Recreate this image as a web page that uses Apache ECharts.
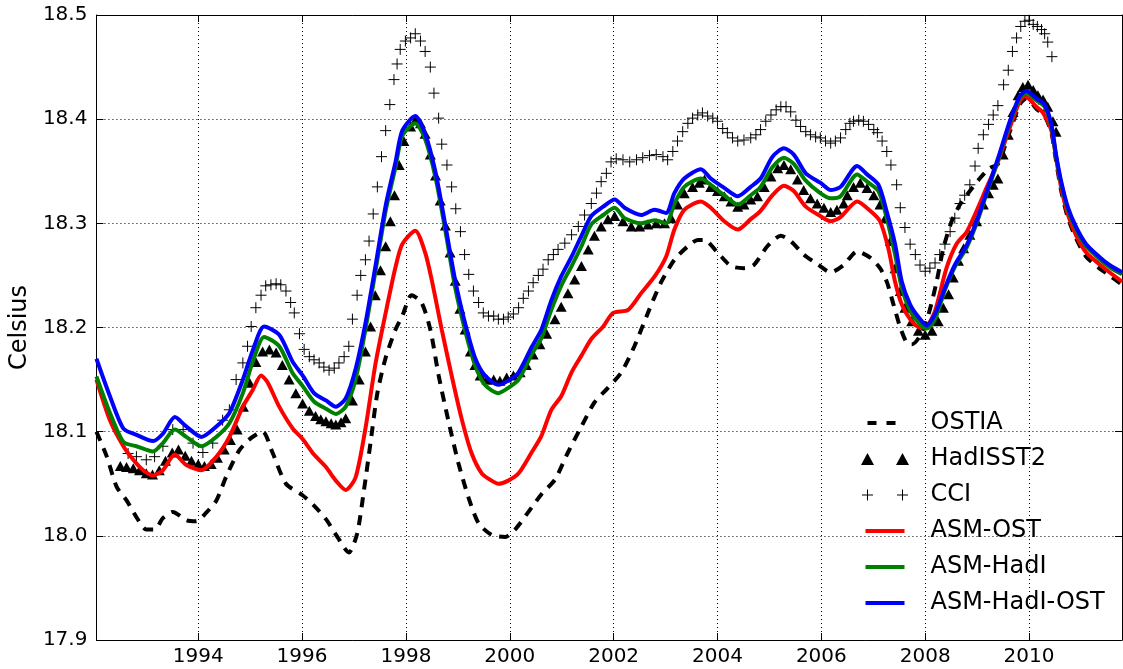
<!DOCTYPE html>
<html>
<head>
<meta charset="utf-8">
<script src="https://cdn.jsdelivr.net/npm/echarts@6/dist/echarts.min.js"></script>
<style>
html,body{margin:0;padding:0;background:#fff;}
#chart{width:1123px;height:669px;}
</style>
</head>
<body>
<div id="chart"></div>
<script>
// ---------------- data ----------------
const xTickLabels = [1994, 1996, 1998, 2000, 2002, 2004, 2006, 2008, 2010];
const yTickLabels = [17.9, 18.0, 18.1, 18.2, 18.3, 18.4, 18.5];
const X_MIN = 1992.04, X_MAX = 2011.79;

const ostiaX = [1992.04,1992.24,1992.43,1992.62,1992.81,1993.00,1993.16,1993.32,1993.51,1993.77,1993.96,1994.15,1994.35,1994.54,1994.79,1995.02,1995.24,1995.43,1995.69,1996.01,1996.23,1996.46,1996.68,1996.90,1997.06,1997.19,1997.32,1997.45,1997.61,1997.80,1997.93,1998.11,1998.30,1998.47,1998.63,1998.82,1999.01,1999.21,1999.40,1999.65,1999.91,2000.10,2000.36,2000.61,2000.87,2001.12,2001.38,2001.63,2001.89,2002.15,2002.40,2002.66,2002.91,2003.17,2003.43,2003.62,2003.75,2004.00,2004.26,2004.51,2004.70,2004.96,2005.22,2005.41,2005.66,2005.92,2006.18,2006.43,2006.69,2006.94,2007.13,2007.26,2007.39,2007.52,2007.65,2007.75,2007.90,2008.06,2008.22,2008.35,2008.51,2008.67,2008.86,2009.05,2009.24,2009.40,2009.63,2009.82,2009.95,2010.14,2010.30,2010.43,2010.52,2010.62,2010.75,2010.91,2011.10,2011.35,2011.55,2011.79];
const ostiaY = [18.100,18.076,18.047,18.034,18.018,18.006,18.006,18.017,18.023,18.015,18.014,18.022,18.034,18.057,18.082,18.094,18.100,18.080,18.050,18.039,18.029,18.016,17.999,17.984,18.002,18.043,18.090,18.137,18.171,18.198,18.211,18.231,18.224,18.198,18.154,18.110,18.070,18.036,18.012,18.001,17.999,18.006,18.023,18.040,18.054,18.080,18.105,18.128,18.142,18.157,18.182,18.214,18.243,18.265,18.278,18.284,18.284,18.272,18.259,18.257,18.260,18.278,18.288,18.283,18.270,18.261,18.253,18.260,18.273,18.267,18.257,18.244,18.222,18.200,18.185,18.184,18.192,18.212,18.244,18.276,18.302,18.318,18.331,18.343,18.353,18.357,18.388,18.414,18.420,18.410,18.403,18.387,18.360,18.331,18.305,18.285,18.268,18.257,18.250,18.241];

const hadisstX = [1992.50,1992.62,1992.75,1992.87,1993.00,1993.12,1993.25,1993.37,1993.50,1993.62,1993.75,1993.87,1994.00,1994.12,1994.25,1994.37,1994.50,1994.62,1994.75,1994.87,1994.99,1995.11,1995.24,1995.37,1995.50,1995.62,1995.75,1995.88,1996.01,1996.14,1996.26,1996.36,1996.46,1996.56,1996.65,1996.75,1996.84,1996.97,1997.10,1997.22,1997.32,1997.41,1997.51,1997.61,1997.70,1997.78,1997.87,1997.96,1998.09,1998.18,1998.28,1998.37,1998.47,1998.57,1998.66,1998.76,1998.85,1998.95,1999.04,1999.14,1999.24,1999.33,1999.43,1999.56,1999.69,1999.81,1999.94,2000.07,2000.20,2000.32,2000.45,2000.58,2000.71,2000.87,2000.99,2001.12,2001.25,2001.38,2001.51,2001.63,2001.76,2001.89,2002.02,2002.18,2002.34,2002.50,2002.66,2002.82,2002.98,2003.11,2003.23,2003.36,2003.52,2003.65,2003.75,2003.87,2004.00,2004.13,2004.26,2004.39,2004.51,2004.64,2004.77,2004.90,2005.03,2005.16,2005.28,2005.41,2005.54,2005.66,2005.79,2005.92,2006.05,2006.18,2006.30,2006.43,2006.50,2006.62,2006.75,2006.88,2007.01,2007.13,2007.23,2007.33,2007.42,2007.52,2007.61,2007.74,2007.87,2008.00,2008.13,2008.25,2008.35,2008.45,2008.54,2008.64,2008.74,2008.86,2008.99,2009.12,2009.22,2009.31,2009.40,2009.50,2009.60,2009.69,2009.79,2009.88,2009.98,2010.08,2010.17,2010.27,2010.36,2010.46,2010.52];
const hadisstY = [18.067,18.066,18.065,18.063,18.060,18.059,18.063,18.072,18.080,18.083,18.077,18.072,18.069,18.067,18.069,18.075,18.083,18.092,18.102,18.124,18.147,18.167,18.177,18.179,18.176,18.164,18.150,18.137,18.127,18.120,18.115,18.112,18.110,18.108,18.107,18.109,18.113,18.130,18.150,18.177,18.201,18.231,18.255,18.278,18.302,18.327,18.356,18.379,18.393,18.399,18.396,18.386,18.366,18.346,18.322,18.298,18.272,18.245,18.218,18.198,18.177,18.164,18.154,18.150,18.150,18.149,18.152,18.154,18.157,18.164,18.174,18.184,18.194,18.208,18.220,18.233,18.246,18.259,18.275,18.288,18.297,18.304,18.307,18.302,18.297,18.297,18.299,18.300,18.300,18.305,18.318,18.329,18.335,18.339,18.342,18.335,18.331,18.326,18.321,18.316,18.318,18.323,18.326,18.335,18.345,18.353,18.356,18.352,18.342,18.332,18.324,18.319,18.315,18.311,18.313,18.319,18.327,18.335,18.339,18.334,18.327,18.318,18.305,18.283,18.257,18.235,18.219,18.206,18.197,18.193,18.197,18.206,18.219,18.232,18.248,18.264,18.276,18.289,18.302,18.318,18.329,18.337,18.343,18.366,18.385,18.407,18.423,18.431,18.433,18.428,18.423,18.419,18.412,18.398,18.388];

const cciX = [1992.65,1992.81,1993.00,1993.16,1993.32,1993.51,1993.71,1993.90,1994.09,1994.28,1994.47,1994.60,1994.73,1994.86,1994.95,1995.02,1995.11,1995.21,1995.30,1995.40,1995.50,1995.59,1995.69,1995.78,1995.85,1995.95,1996.04,1996.14,1996.23,1996.33,1996.42,1996.52,1996.62,1996.71,1996.81,1996.90,1996.97,1997.06,1997.13,1997.22,1997.29,1997.37,1997.45,1997.53,1997.61,1997.69,1997.77,1997.83,1997.89,1997.99,1998.09,1998.18,1998.28,1998.37,1998.47,1998.54,1998.63,1998.69,1998.79,1998.88,1998.96,1999.05,1999.13,1999.21,1999.30,1999.40,1999.49,1999.59,1999.69,1999.78,1999.88,1999.97,2000.07,2000.17,2000.26,2000.36,2000.45,2000.55,2000.64,2000.74,2000.84,2000.93,2001.06,2001.19,2001.32,2001.44,2001.57,2001.67,2001.76,2001.86,2001.95,2002.05,2002.18,2002.31,2002.44,2002.56,2002.69,2002.82,2002.95,2003.04,2003.14,2003.23,2003.33,2003.43,2003.52,2003.62,2003.71,2003.81,2003.91,2004.00,2004.10,2004.19,2004.29,2004.39,2004.51,2004.64,2004.74,2004.83,2004.93,2005.03,2005.13,2005.22,2005.32,2005.41,2005.51,2005.60,2005.70,2005.79,2005.89,2005.98,2006.08,2006.18,2006.27,2006.37,2006.47,2006.55,2006.62,2006.72,2006.81,2006.91,2007.01,2007.08,2007.17,2007.26,2007.34,2007.45,2007.52,2007.61,2007.71,2007.81,2007.90,2008.00,2008.09,2008.19,2008.28,2008.38,2008.48,2008.57,2008.67,2008.76,2008.86,2008.96,2009.02,2009.12,2009.22,2009.31,2009.40,2009.51,2009.60,2009.68,2009.76,2009.84,2009.92,2010.00,2010.08,2010.16,2010.24,2010.30,2010.36,2010.44];
const cciY = [18.079,18.076,18.073,18.076,18.086,18.102,18.102,18.089,18.080,18.089,18.111,18.121,18.150,18.166,18.182,18.201,18.219,18.231,18.240,18.241,18.242,18.241,18.235,18.224,18.214,18.194,18.179,18.172,18.169,18.166,18.162,18.159,18.161,18.166,18.172,18.182,18.208,18.231,18.250,18.265,18.283,18.309,18.335,18.364,18.389,18.414,18.438,18.453,18.467,18.475,18.478,18.482,18.475,18.465,18.450,18.425,18.401,18.376,18.356,18.335,18.314,18.292,18.270,18.251,18.235,18.224,18.214,18.211,18.211,18.208,18.208,18.210,18.213,18.219,18.228,18.235,18.243,18.250,18.256,18.265,18.270,18.275,18.281,18.289,18.297,18.308,18.319,18.329,18.340,18.348,18.359,18.362,18.361,18.359,18.361,18.363,18.365,18.366,18.364,18.361,18.369,18.379,18.388,18.396,18.401,18.404,18.406,18.403,18.401,18.398,18.391,18.387,18.382,18.379,18.380,18.382,18.385,18.390,18.398,18.404,18.409,18.412,18.412,18.407,18.399,18.393,18.388,18.385,18.383,18.382,18.379,18.377,18.379,18.382,18.390,18.396,18.398,18.399,18.398,18.395,18.390,18.387,18.379,18.369,18.356,18.337,18.315,18.296,18.280,18.270,18.260,18.254,18.257,18.262,18.270,18.280,18.292,18.305,18.319,18.327,18.337,18.355,18.372,18.385,18.395,18.404,18.413,18.433,18.447,18.465,18.478,18.489,18.494,18.495,18.491,18.489,18.486,18.482,18.474,18.460];

const asmOstX = [1992.04,1992.30,1992.56,1992.75,1992.94,1993.13,1993.32,1993.55,1993.77,1994.06,1994.35,1994.60,1994.86,1995.05,1995.21,1995.34,1995.56,1995.82,1996.01,1996.23,1996.46,1996.65,1996.84,1997.03,1997.22,1997.41,1997.61,1997.80,1997.93,1998.18,1998.37,1998.50,1998.69,1998.88,1999.07,1999.26,1999.46,1999.65,1999.78,1999.97,2000.17,2000.42,2000.61,2000.80,2000.99,2001.19,2001.38,2001.57,2001.80,2001.99,2002.28,2002.53,2002.79,2003.01,2003.17,2003.36,2003.68,2003.87,2004.13,2004.39,2004.64,2004.83,2005.06,2005.28,2005.47,2005.70,2005.98,2006.18,2006.37,2006.69,2006.94,2007.13,2007.29,2007.42,2007.55,2007.71,2007.90,2008.03,2008.19,2008.41,2008.60,2008.80,2008.99,2009.18,2009.40,2009.63,2009.82,2009.92,2010.14,2010.27,2010.43,2010.52,2010.62,2010.75,2010.91,2011.10,2011.35,2011.55,2011.79];
const asmOstY = [18.150,18.111,18.086,18.073,18.063,18.058,18.063,18.078,18.068,18.063,18.076,18.095,18.124,18.140,18.154,18.147,18.124,18.103,18.093,18.078,18.066,18.053,18.044,18.056,18.103,18.164,18.214,18.258,18.280,18.293,18.272,18.245,18.198,18.154,18.113,18.080,18.060,18.053,18.050,18.053,18.060,18.080,18.096,18.121,18.134,18.157,18.173,18.189,18.201,18.214,18.217,18.233,18.249,18.268,18.294,18.313,18.321,18.315,18.302,18.294,18.304,18.312,18.327,18.336,18.331,18.316,18.307,18.302,18.306,18.321,18.312,18.302,18.276,18.244,18.222,18.208,18.200,18.201,18.216,18.257,18.280,18.292,18.312,18.334,18.359,18.392,18.417,18.422,18.412,18.406,18.389,18.363,18.334,18.308,18.288,18.272,18.261,18.253,18.244];

const asmHadiX = [1992.04,1992.30,1992.56,1992.81,1993.13,1993.32,1993.55,1993.77,1994.06,1994.35,1994.60,1994.86,1995.05,1995.27,1995.56,1995.82,1996.01,1996.23,1996.46,1996.65,1996.84,1997.03,1997.22,1997.41,1997.61,1997.80,1997.93,1998.18,1998.37,1998.57,1998.76,1998.95,1999.14,1999.33,1999.52,1999.78,1999.97,2000.17,2000.42,2000.61,2000.80,2000.99,2001.19,2001.38,2001.57,2001.80,2002.02,2002.21,2002.53,2002.79,2003.01,2003.17,2003.36,2003.68,2003.87,2004.13,2004.39,2004.64,2004.83,2005.06,2005.28,2005.47,2005.70,2005.98,2006.18,2006.37,2006.69,2006.88,2007.10,2007.26,2007.42,2007.55,2007.71,2007.87,2008.03,2008.19,2008.38,2008.57,2008.80,2008.99,2009.18,2009.40,2009.63,2009.82,2009.95,2010.14,2010.30,2010.43,2010.52,2010.62,2010.75,2010.91,2011.10,2011.35,2011.55,2011.79];
const asmHadiY = [18.153,18.118,18.090,18.086,18.081,18.089,18.102,18.095,18.086,18.095,18.108,18.137,18.167,18.191,18.182,18.156,18.144,18.129,18.122,18.117,18.124,18.150,18.198,18.253,18.312,18.354,18.384,18.396,18.381,18.344,18.293,18.238,18.197,18.164,18.145,18.137,18.142,18.150,18.174,18.190,18.217,18.240,18.259,18.278,18.299,18.308,18.315,18.305,18.300,18.303,18.300,18.319,18.335,18.343,18.337,18.327,18.318,18.327,18.335,18.354,18.363,18.357,18.341,18.329,18.324,18.326,18.347,18.340,18.331,18.305,18.270,18.238,18.216,18.205,18.199,18.208,18.236,18.258,18.277,18.300,18.328,18.360,18.396,18.420,18.425,18.418,18.412,18.393,18.364,18.338,18.313,18.294,18.278,18.266,18.258,18.251];

const asmHadiOstX = [1992.04,1992.30,1992.56,1992.81,1993.13,1993.32,1993.55,1993.77,1994.06,1994.35,1994.60,1994.86,1995.05,1995.27,1995.56,1995.82,1996.01,1996.23,1996.46,1996.65,1996.84,1997.03,1997.22,1997.41,1997.61,1997.80,1997.93,1998.18,1998.37,1998.57,1998.76,1998.95,1999.14,1999.33,1999.52,1999.78,1999.97,2000.17,2000.42,2000.61,2000.80,2000.99,2001.19,2001.38,2001.57,2001.80,2002.02,2002.21,2002.53,2002.79,2003.01,2003.17,2003.36,2003.68,2003.87,2004.13,2004.39,2004.64,2004.83,2005.06,2005.28,2005.47,2005.70,2005.98,2006.18,2006.37,2006.69,2006.88,2007.10,2007.26,2007.42,2007.55,2007.71,2007.87,2008.03,2008.19,2008.38,2008.57,2008.80,2008.99,2009.18,2009.40,2009.63,2009.82,2009.95,2010.14,2010.30,2010.43,2010.52,2010.62,2010.75,2010.91,2011.10,2011.35,2011.55,2011.79];
const asmHadiOstY = [18.170,18.134,18.103,18.097,18.091,18.098,18.114,18.105,18.095,18.105,18.118,18.150,18.178,18.201,18.193,18.167,18.154,18.137,18.130,18.124,18.132,18.160,18.204,18.258,18.317,18.359,18.389,18.403,18.386,18.349,18.298,18.245,18.204,18.171,18.154,18.145,18.149,18.157,18.181,18.198,18.226,18.249,18.268,18.288,18.307,18.316,18.323,18.315,18.308,18.313,18.310,18.329,18.343,18.352,18.343,18.334,18.326,18.335,18.343,18.364,18.372,18.366,18.348,18.339,18.332,18.335,18.355,18.347,18.337,18.311,18.280,18.244,18.222,18.210,18.202,18.213,18.238,18.260,18.279,18.302,18.330,18.362,18.398,18.422,18.427,18.420,18.414,18.395,18.366,18.340,18.315,18.296,18.280,18.268,18.260,18.253];

// ---------------- chart ----------------
function zip(xs, ys) { return xs.map((x, i) => [x, ys[i]]); }
const FONT = 'DejaVu Sans';

const chart = echarts.init(document.getElementById('chart'), null, { renderer: 'canvas' });

const xAxisBase = {
  type: 'value', min: X_MIN, max: X_MAX,
  axisLine: { show: true, onZero: false, lineStyle: { color: '#000', width: 1 } },
  axisTick: { show: true, inside: true, length: 7, customValues: xTickLabels, lineStyle: { color: '#000', width: 1 } },
  minorTick: { show: false }
};
const yAxisBase = {
  type: 'value', min: yTickLabels[0], max: yTickLabels[yTickLabels.length - 1], interval: 0.1,
  axisLine: { show: true, onZero: false, lineStyle: { color: '#000', width: 1 } },
  axisTick: { show: true, inside: true, length: 7, lineStyle: { color: '#000', width: 1 } }
};

const option = {
  animation: false,
  backgroundColor: '#fff',
  grid: { left: 93, right: 1, top: 15, bottom: 29, containLabel: false },
  xAxis: [
    Object.assign({}, xAxisBase, {
      position: 'bottom',
      axisLabel: { show: true, customValues: xTickLabels, formatter: v => String(Math.round(v)), fontSize: 20, fontFamily: FONT, color: '#000', margin: 7 },
      splitLine: { show: true, lineStyle: { color: '#000', width: 1, type: [1, 3] } }
    }),
    Object.assign({}, xAxisBase, {
      position: 'top',
      axisLabel: { show: false },
      splitLine: { show: false }
    })
  ],
  yAxis: [
    Object.assign({}, yAxisBase, {
      position: 'left',
      name: 'Celsius', nameLocation: 'middle', nameGap: 64, nameRotate: 90,
      nameTextStyle: { fontSize: 24, fontFamily: FONT, color: '#000' },
      axisLabel: { show: true, formatter: v => v.toFixed(1), fontSize: 20, fontFamily: FONT, color: '#000', margin: 9 },
      splitLine: { show: true, lineStyle: { color: '#000', width: 1, type: [1, 3] } }
    }),
    Object.assign({}, yAxisBase, {
      position: 'right',
      axisLabel: { show: false },
      splitLine: { show: false }
    })
  ],
  legend: {
    orient: 'vertical', left: 859, top: 411, padding: 0,
    itemWidth: 66, itemHeight: 16, itemGap: 12,
    selectedMode: false,
    textStyle: { fontSize: 24, fontFamily: FONT, color: '#000', lineHeight: 24 },
    data: [
      { name: 'OSTIA', icon: 'path://M0,0M66,16M8,6h9v4h-9zM27,6h9v4h-9z', itemStyle: { color: '#000', borderWidth: 0, opacity: 1 } },
      { name: 'HadISST2', icon: 'path://M0,0M66,16M1.5,14L8,2L14.5,14ZM36.5,14L43,2L49.5,14Z', itemStyle: { color: '#000', borderWidth: 0, opacity: 1 } },
      { name: 'CCI', icon: 'path://M0,0M66,16M8,2.5V13.5M2.5,8H13.5M43,2.5V13.5M37.5,8H48.5', itemStyle: { color: 'rgba(0,0,0,0)', borderColor: '#000', borderWidth: 1, opacity: 1 } },
      { name: 'ASM-OST', icon: 'path://M0,0M66,16M6,6H45V10H6Z', itemStyle: { color: '#ff0000', borderWidth: 0, opacity: 1 } },
      { name: 'ASM-HadI', icon: 'path://M0,0M66,16M6,6H45V10H6Z', itemStyle: { color: '#008000', borderWidth: 0, opacity: 1 } },
      { name: 'ASM-HadI-OST', icon: 'path://M0,0M66,16M6,6H45V10H6Z', itemStyle: { color: '#0000ff', borderWidth: 0, opacity: 1 } }
    ]
  },
  series: [
    {
      name: 'OSTIA', type: 'line', data: zip(ostiaX, ostiaY), symbol: 'none', smooth: 0.25,
      color: '#000',
      lineStyle: { color: '#000', width: 4, type: [10, 8], cap: 'butt' }, z: 2
    },
    {
      name: 'HadISST2', type: 'scatter', data: zip(hadisstX, hadisstY),
      symbol: 'triangle', symbolSize: [11, 10], color: '#000',
      itemStyle: { color: '#000', opacity: 1 }, z: 3
    },
    {
      name: 'CCI', type: 'scatter', data: zip(cciX, cciY),
      symbol: 'path://M5,0V10M0,5H10', symbolSize: 11, color: '#000',
      itemStyle: { color: 'rgba(0,0,0,0)', borderColor: '#000', borderWidth: 1, opacity: 1 }, z: 3
    },
    {
      name: 'ASM-OST', type: 'line', data: zip(asmOstX, asmOstY), symbol: 'none', smooth: 0.25,
      color: '#ff0000', lineStyle: { color: '#ff0000', width: 4 }, z: 4
    },
    {
      name: 'ASM-HadI', type: 'line', data: zip(asmHadiX, asmHadiY), symbol: 'none', smooth: 0.25,
      color: '#008000', lineStyle: { color: '#008000', width: 4 }, z: 5
    },
    {
      name: 'ASM-HadI-OST', type: 'line', data: zip(asmHadiOstX, asmHadiOstY), symbol: 'none', smooth: 0.25,
      color: '#0000ff', lineStyle: { color: '#0000ff', width: 4 }, z: 6
    }
  ]
};
chart.setOption(option);
</script>
</body>
</html>
